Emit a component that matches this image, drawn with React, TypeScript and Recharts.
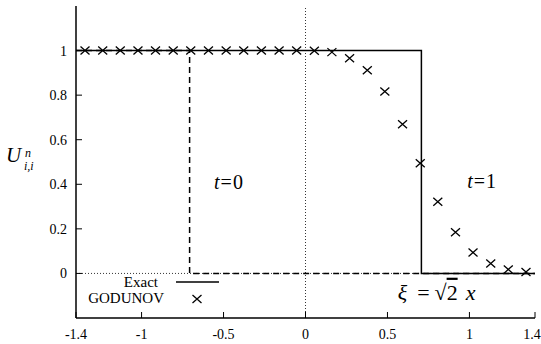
import React from "react";
import {
  ComposedChart,
  Line,
  Scatter,
  XAxis,
  YAxis,
  ReferenceLine,
  ReferenceDot,
  Legend,
} from "recharts";

const W = 541;
const H = 344;
const SERIF = "'Liberation Serif', 'Times New Roman', 'DejaVu Serif', serif";

const xTicks = [-1.4, -1, -0.5, 0, 0.5, 1, 1.4];
const yTicks = [0, 0.2, 0.4, 0.6, 0.8, 1];

// exact solution: t=0 (dashed) and t=1 (solid)
const exactT0X = [-1.4, -0.707, -0.707, 1.4];
const exactT0Y = [1, 1, 0, 0];
const exactT1X = [-1.4, 0.707, 0.707, 1.4];
const exactT1Y = [1, 1, 0, 0];

// GODUNOV at t=1
const godX = [
  -1.345, -1.237, -1.13, -1.022, -0.915, -0.807, -0.7, -0.592, -0.484, -0.377,
  -0.269, -0.161, -0.054, 0.054, 0.161, 0.269, 0.377, 0.484, 0.592, 0.7, 0.807,
  0.915, 1.022, 1.13, 1.237, 1.345,
];
const godY = [
  1, 1, 1, 1, 1, 1, 1, 1, 1, 1, 1, 1, 1, 0.999, 0.993, 0.966, 0.912, 0.816,
  0.669, 0.494, 0.322, 0.185, 0.094, 0.045, 0.018, 0.006,
];

const zip = (xs: number[], ys: number[]) => xs.map((x, i) => ({ x, y: ys[i] }));
const exactT0 = zip(exactT0X, exactT0Y);
const exactT1 = zip(exactT1X, exactT1Y);
const godunov = zip(godX, godY);

const txt = { fontFamily: SERIF, fill: "#000" };

function Cross({ cx, cy }: any) {
  return (
    <path
      d={`M${cx - 4.5},${cy - 4}L${cx + 4.5},${cy + 4}M${cx - 4.5},${cy + 4}L${cx + 4.5},${cy - 4}`}
      stroke="#000"
      strokeWidth={1.3}
      fill="none"
    />
  );
}

function BottomTick({ x, y, payload }: any) {
  // last label is nudged in so it stays inside the picture
  const last = payload.value === xTicks[xTicks.length - 1];
  return (
    <g>
      <line x1={x} y1={y} x2={x} y2={y - 6} stroke="#000" />
      <text x={last ? x - 3 : x} y={y + 21} textAnchor="middle" fontSize={14} style={txt}>
        {payload.value}
      </text>
    </g>
  );
}

function TopTick({ x, y }: any) {
  return <line x1={x} y1={y} x2={x} y2={y + 6} stroke="#000" />;
}

function LeftTick({ x, y, payload }: any) {
  return (
    <g>
      <line x1={x} y1={y} x2={x + 6} y2={y} stroke="#000" />
      <text x={x - 9} y={y + 5} textAnchor="end" fontSize={14} style={txt}>
        {payload.value}
      </text>
    </g>
  );
}

function RightTick({ x, y }: any) {
  return <line x1={x} y1={y} x2={x - 6} y2={y} stroke="#000" />;
}

// U^n_{i,i}
function YLabel({ viewBox }: any) {
  const x = viewBox.x + 6;
  const y = viewBox.y + 156;
  return (
    <g style={txt} fontStyle="italic">
      <text x={x} y={y} fontSize={21}>U</text>
      <text x={x + 19} y={y - 5} fontSize={12}>n</text>
      <text x={x + 18} y={y + 8} fontSize={12}>i,i</text>
    </g>
  );
}

function KeyBox() {
  return (
    <svg width={150} height={40} style={{ display: "block" }}>
      <text x={78} y={15} textAnchor="end" fontSize={15} style={txt}>
        Exact
      </text>
      <line x1={96} y1={10} x2={139} y2={10} stroke="#000" strokeWidth={1.5} />
      <text x={84} y={31} textAnchor="end" fontSize={15} style={txt}>
        GODUNOV
      </text>
      <Cross cx={117} cy={27} />
    </svg>
  );
}

const timeLabel = (v: string) => ({ viewBox }: any) => (
  <text x={viewBox.x} y={viewBox.y} textAnchor="middle" fontSize={20} style={txt}>
    <tspan fontStyle="italic">t</tspan>
    <tspan dx={1}>=</tspan>
    <tspan dx={1}>{v}</tspan>
  </text>
);

const xiLabel = ({ viewBox }: any) => (
  <text x={viewBox.x} y={viewBox.y} fontSize={22} style={txt}>
    <tspan fontStyle="italic">ξ</tspan>
    <tspan dx={10}>=</tspan>
    <tspan dx={5}>√</tspan>
    <tspan style={{ textDecoration: "overline" }}>2</tspan>
    <tspan dx={8} fontStyle="italic">x</tspan>
  </text>
);

export default function App() {
  return (
    <div
      style={{
        position: "absolute",
        left: 0,
        top: 0,
        width: W,
        height: H,
        background: "#fff",
        fontFamily: SERIF,
      }}
    >
      <ComposedChart width={W} height={H} margin={{ top: 6, right: 6, bottom: 0, left: 0 }}>
        <XAxis
          dataKey="x"
          type="number"
          domain={[-1.4, 1.4]}
          ticks={xTicks}
          interval={0}
          height={26}
          tickSize={0}
          tickMargin={0}
          tickLine={false}
          tick={BottomTick}
          axisLine={{ stroke: "#000", strokeWidth: 1.5 }}
          allowDataOverflow
        />
        <XAxis
          xAxisId="top"
          orientation="top"
          dataKey="x"
          type="number"
          domain={[-1.4, 1.4]}
          ticks={xTicks}
          interval={0}
          height={0}
          tickSize={0}
          tickMargin={0}
          tickLine={false}
          tick={TopTick}
          axisLine={{ stroke: "#000", strokeWidth: 1 }}
          allowDataOverflow
        />
        <YAxis
          type="number"
          domain={[-0.2, 1.2]}
          ticks={yTicks}
          interval={0}
          width={76}
          tickSize={0}
          tickMargin={0}
          tickLine={false}
          tick={LeftTick}
          axisLine={{ stroke: "#000", strokeWidth: 1.5 }}
          label={{ content: YLabel }}
          allowDataOverflow
        />
        <YAxis
          yAxisId="right"
          orientation="right"
          type="number"
          domain={[-0.2, 1.2]}
          ticks={yTicks}
          interval={0}
          width={0}
          tickSize={0}
          tickMargin={0}
          tickLine={false}
          tick={RightTick}
          axisLine={{ stroke: "#000", strokeWidth: 1 }}
          allowDataOverflow
        />
        <ReferenceLine y={0} stroke="#000" strokeWidth={0.8} strokeDasharray="1 2" />
        <ReferenceLine x={0} stroke="#000" strokeWidth={0.8} strokeDasharray="1 2" />
        <Line
          data={exactT0}
          dataKey="y"
          type="linear"
          stroke="#000"
          strokeWidth={1.5}
          strokeDasharray="6 4"
          dot={false}
          activeDot={false}
          legendType="none"
          isAnimationActive={false}
        />
        <Line
          data={exactT1}
          dataKey="y"
          name="Exact"
          type="linear"
          stroke="#000"
          strokeWidth={1.5}
          dot={false}
          activeDot={false}
          isAnimationActive={false}
        />
        <Scatter
          data={godunov}
          dataKey="y"
          name="GODUNOV"
          shape={Cross}
          isAnimationActive={false}
        />
        <ReferenceDot x={-0.47} y={0.38} r={0} stroke="none" fill="none" label={{ content: timeLabel("0") }} />
        <ReferenceDot x={1.074} y={0.382} r={0} stroke="none" fill="none" label={{ content: timeLabel("1") }} />
        <ReferenceDot x={0.5625} y={-0.118} r={0} stroke="none" fill="none" label={{ content: xiLabel }} />
        <Legend
          content={KeyBox}
          layout="vertical"
          align="center"
          verticalAlign="middle"
          wrapperStyle={{ left: 80, top: 272, width: 150, height: 40 }}
        />
      </ComposedChart>
    </div>
  );
}
